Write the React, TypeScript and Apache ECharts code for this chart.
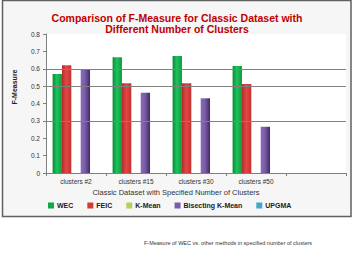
import React, { useEffect, useRef } from 'react';
import * as echarts from 'echarts';

const titleText = 'Comparison of F-Measure for Classic Dataset with\nDifferent Number of Clusters';
const categories = ['clusters #2', 'clusters #15', 'clusters #30', 'clusters #50', ''];
const seriesNames = ['WEC', 'FEIC', 'K-Mean', 'Bisecting K-Mean', 'UPGMA'];
const wecValues = [0.57, 0.666, 0.673, 0.616];
const feicValues = [0.62, 0.516, 0.516, 0.512];
const kMeanValues: (number | null)[] = [null, null, null, null];
const bisectingValues = [0.597, 0.462, 0.43, 0.266];
const upgmaValues: (number | null)[] = [null, null, null, null];
const yMin = 0;
const yMax = 0.8;
const yInterval = 0.1;
const gridLineValues = [0.3, 0.5, 0.6];
const yAxisTitle = 'F-Measure';
const xAxisTitle = 'Classic Dataset with Specified Number of Clusters';
const captionText = 'F-Measure of WEC vs. other methods in specified number of clusters';

const grad = (l: string, m: string, r: string) =>
  new echarts.graphic.LinearGradient(0, 0, 1, 0, [
    { offset: 0, color: l },
    { offset: 0.45, color: m },
    { offset: 1, color: r },
  ]);

export default function App() {
  const ref = useRef<HTMLDivElement>(null);
  useEffect(() => {
    if (!ref.current) return;
    const chart = echarts.init(ref.current, undefined, { renderer: 'svg' });
    const colors = ['#11a84a', '#d63a36', '#b9cf5a', '#7a5ca8', '#3fa9c9'];
    const fills = [
      grad('#0a8a38', '#1fc25c', '#0c9a40'),
      grad('#b52a27', '#e24845', '#c23330'),
      grad('#9bb24a', '#c4d86a', '#a3ba50'),
      grad('#8a6bbb', '#7a5ca8', '#3f2b62'),
      grad('#2f8fb0', '#4bb6d6', '#3199ba'),
    ];
    const datas = [wecValues, feicValues, kMeanValues, bisectingValues, upgmaValues];
    const series: any[] = seriesNames.map((name, i) => ({
      name,
      type: 'bar',
      data: datas[i],
      barGap: '0%',
      barCategoryGap: '22%',
      itemStyle: { color: fills[i] },
    }));
    series[0].markLine = {
      silent: true,
      symbol: 'none',
      label: { show: false },
      lineStyle: { color: '#808080', width: 1.2, type: 'solid' },
      data: gridLineValues.map((v) => ({ yAxis: v })),
    };
    chart.setOption({
      animation: false,
      color: colors,
      title: {
        text: titleText,
        left: 'center',
        top: 7,
        textStyle: {
          fontFamily: 'Liberation Sans',
          fontSize: 10.5,
          fontWeight: 'bold',
          color: '#c00000',
          lineHeight: 11,
        },
      },
      legend: {
        data: seriesNames.map((n, i) => ({ name: n, itemStyle: { color: colors[i] } })),
        left: 48,
        top: 202,
        width: 304,
        padding: 0,
        itemWidth: 6,
        itemHeight: 6,
        itemGap: 14,
        icon: 'rect',
        textStyle: { fontFamily: 'Liberation Sans', fontSize: 7, fontWeight: 'bold', color: '#222', padding: [0, 0, 0, -2] },
      },
      grid: {
        left: 46,
        right: 8,
        top: 34,
        bottom: 87,
        show: true,
        backgroundColor: '#ffffff',
        borderWidth: 0,
      },
      xAxis: {
        type: 'category',
        data: categories,
        axisLine: { lineStyle: { color: '#808080' } },
        axisTick: { show: true, length: 3, lineStyle: { color: '#808080' } },
        axisLabel: { fontFamily: 'Liberation Sans', fontSize: 6.5, color: '#333', margin: 5, interval: 0 },
      },
      yAxis: {
        type: 'value',
        min: yMin,
        max: yMax,
        interval: yInterval,
        splitLine: { show: false },
        axisLine: { show: true, lineStyle: { color: '#808080' } },
        axisTick: { show: true, length: 3, lineStyle: { color: '#808080' } },
        axisLabel: { fontFamily: 'Liberation Sans', fontSize: 6.5, color: '#333', margin: 6 },
      },
      graphic: [
        {
          type: 'rect',
          z: -100,
          shape: { x: 2.5, y: 0.5, width: 348.5, height: 216 },
          style: { fill: '#f6f6f6', stroke: '#606060', lineWidth: 1.5 },
        },
        {
          type: 'text',
          x: 14,
          y: 87,
          rotation: Math.PI / 2,
          style: {
            text: yAxisTitle,
            fontFamily: 'Liberation Sans',
            fontSize: 7,
            fontWeight: 'bold',
            fill: '#222',
            align: 'center',
            verticalAlign: 'middle',
          },
        },
        {
          type: 'text',
          x: 176,
          y: 192,
          style: {
            text: xAxisTitle,
            fontFamily: 'Liberation Sans',
            fontSize: 7.5,
            fill: '#333',
            align: 'center',
            verticalAlign: 'middle',
          },
        },
        {
          type: 'text',
          x: 228,
          y: 243,
          style: {
            text: captionText,
            fontFamily: 'Liberation Sans',
            fontSize: 5.5,
            fill: '#333',
            align: 'center',
            verticalAlign: 'middle',
          },
        },
      ],
      series,
    });
    return () => chart.dispose();
  }, []);
  return (
    <div
      ref={ref}
      style={{ position: 'fixed', left: 0, top: 0, width: 354, height: 260, background: '#ffffff' }}
    />
  );
}
